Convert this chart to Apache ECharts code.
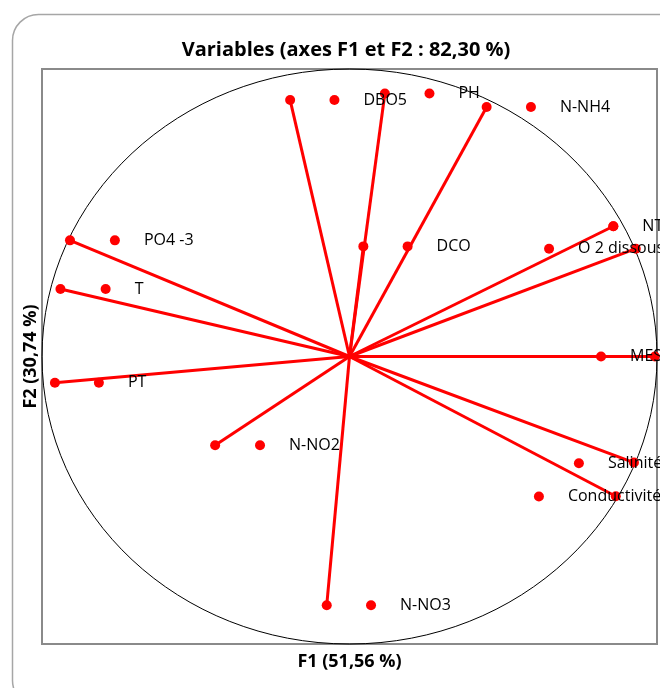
<!DOCTYPE html>
<html><head><meta charset="utf-8">
<script src="https://cdn.jsdelivr.net/npm/echarts@6/dist/echarts.min.js"></script>
<style>html,body{margin:0;padding:0;background:#fff}#c{width:660px;height:688px}</style>
</head><body><div id="c"></div>
<script>
// Variable names
const variables = ['PO4 -3','T','PT','DBO5','PH','N-NH4','DCO','NT','O 2 dissous','MES','Salinité','Conductivité','N-NO3','N-NO2'];
// Vector endpoints (correlations with F1 / F2)
const f1 = [-0.909,-0.940,-0.958,-0.193,0.115,0.446,0.045,0.858,0.931,0.993,0.925,0.866,-0.074,-0.437];
const f2 = [0.404,0.235,-0.091,0.892,0.915,0.868,0.383,0.453,0.375,0.000,-0.369,-0.486,-0.865,-0.309];
// Label marker positions
const labelF1 = [-0.763,-0.793,-0.815,-0.049,0.260,0.590,0.189,0.858,0.649,0.818,0.746,0.616,0.070,-0.291];
const labelF2 = [0.404,0.235,-0.091,0.892,0.915,0.868,0.383,0.453,0.375,0.000,-0.371,-0.487,-0.865,-0.309];

const RED = '#ff0000';
const FONT = 'Open Sans';
const chart = echarts.init(document.getElementById('c'), null, {renderer: 'canvas'});

const series = [];
variables.forEach((v, i) => {
  series.push({
    type: 'line', name: v, silent: true, symbol: 'none', z: 3,
    lineStyle: {color: RED, width: 3},
    data: [[0, 0], [f1[i], f2[i]]]
  });
});
series.push({
  type: 'scatter', name: 'vectors', z: 4, symbolSize: 10,
  itemStyle: {color: RED, opacity: 1},
  data: f1.map((x, i) => [x, f2[i]])
});
series.push({
  type: 'scatter', name: 'labels', z: 4, symbolSize: 10,
  itemStyle: {color: RED, opacity: 1},
  label: {
    show: true, position: 'right', distance: 24,
    formatter: p => variables[p.dataIndex],
    color: '#000', fontFamily: FONT, fontSize: 16
  },
  data: labelF1.map((x, i) => [x, labelF2[i]])
});

const axisCommon = {
  type: 'value', min: -1, max: 1,
  axisLine: {show: false}, axisTick: {show: false},
  axisLabel: {show: false}, splitLine: {show: false},
  nameLocation: 'middle',
  nameTextStyle: {fontFamily: FONT, fontWeight: 'bold', fontSize: 18, color: '#000'}
};

chart.setOption({
  animation: false,
  title: {
    text: 'Variables (axes F1 et F2 : 82,30 %)',
    left: 341, top: 35, textAlign: 'center',
    textStyle: {fontFamily: FONT, fontWeight: 'bold', fontSize: 20, color: '#000'}
  },
  grid: {left: 42, top: 69, width: 615, height: 575, show: true, borderColor: '#8a8a8a', borderWidth: 2},
  xAxis: Object.assign({}, axisCommon, {name: 'F1 (51,56 %)', nameGap: 9}),
  yAxis: Object.assign({}, axisCommon, {name: 'F2 (30,74 %)', nameGap: 2}),
  series: series
});

const c = chart.convertToPixel({gridIndex: 0}, [0, 0]);
const px = chart.convertToPixel({gridIndex: 0}, [1, 0]);
const py = chart.convertToPixel({gridIndex: 0}, [0, 1]);
chart.setOption({
  graphic: [
    {type: 'rect', z: 0, shape: {x: 12.5, y: 14.5, width: 700, height: 692, r: 26},
     style: {fill: 'none', stroke: '#a6a6a6', lineWidth: 1.5}},
    {type: 'ellipse', z: 1, shape: {cx: c[0], cy: c[1], rx: px[0] - c[0], ry: c[1] - py[1]},
     style: {fill: 'none', stroke: '#000', lineWidth: 1}}
  ]
});
</script>
</body></html>
